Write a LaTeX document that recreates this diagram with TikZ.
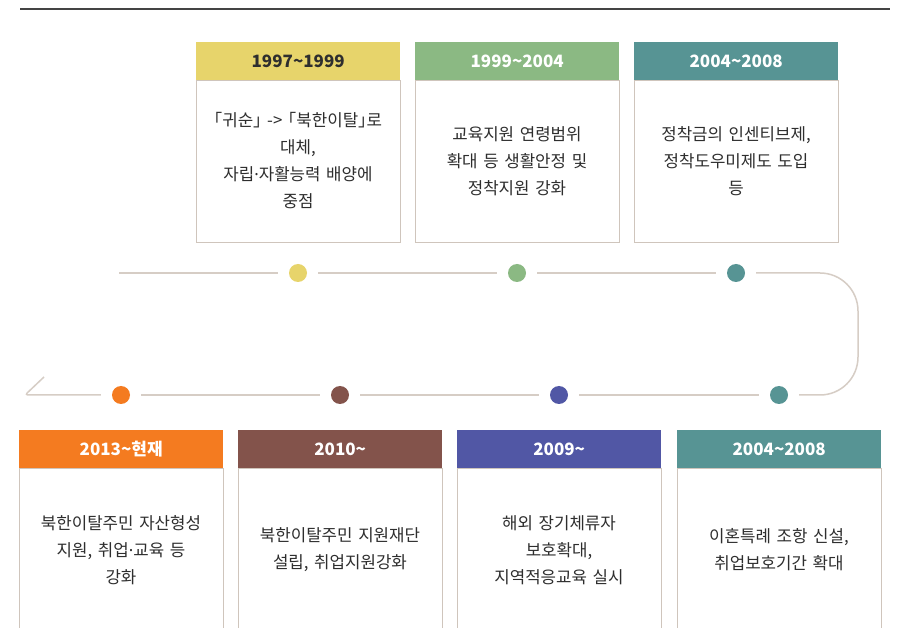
\documentclass[tikz,border=0pt]{standalone}
\usepackage{fontspec}
\setmainfont{Noto Sans CJK KR}
\newfontfamily\latinfont{Noto Sans}
\definecolor{cyellow}{HTML}{E7D46B}
\definecolor{cgreen}{HTML}{8BB983}
\definecolor{cteal}{HTML}{579494}
\definecolor{corange}{HTML}{F47B20}
\definecolor{cbrown}{HTML}{83534B}
\definecolor{cpurple}{HTML}{5157A5}
\definecolor{cline}{HTML}{D6CDC5}
\definecolor{cborder}{HTML}{CFC5BC}
\definecolor{ctext}{HTML}{2E2E2E}
\definecolor{ctop}{HTML}{444444}
\newcommand{\tld}{\textasciitilde{}}
\newcommand{\mdot}{{\latinfont ·}}
\tikzset{
  x=1pt, y=-1pt,
  hdr/.style={fill=#1, minimum width=204pt, minimum height=38pt, inner sep=0pt, text=white,
    font=\fontsize{17}{20}\selectfont\bfseries},
  bodybox/.style={draw=cborder, line width=0.9pt, minimum width=204pt, inner sep=0pt},
  bodytxt/.style={text=ctext, align=center, text width=200pt, inner sep=0pt,
    font=\fontsize{16.8}{27}\selectfont},
  dot/.style={circle, fill=#1, minimum size=18pt, inner sep=0pt},
  tl/.style={draw=cline, line width=1.5pt, shorten <=11pt, shorten >=11pt},
}
\begin{document}
\begin{tikzpicture}
\useasboundingbox[fill=white] (0,0) rectangle (898,628);
% top rule
\coordinate (rl) at (20,9);
\coordinate (rr) at (890,9);
\draw[ctop, line width=2.2pt] (rl) -- (rr);

% top boxes
\node[bodybox, minimum height=162pt, anchor=north west] (b1) at (196,80) {};
\node[bodybox, minimum height=162pt, anchor=north west] (b2) at (415,80) {};
\node[bodybox, minimum height=162pt, anchor=north west] (b3) at (634,80) {};
\node[hdr=cyellow, text=ctext, anchor=north west] (h1) at (196,42) {1997\tld 1999};
\node[hdr=cgreen, anchor=north west] (h2) at (415,42) {1999\tld 2004};
\node[hdr=cteal, anchor=north west] (h3) at (634,42) {2004\tld 2008};
\node[bodytxt] (x1) at (298,161) {｢귀순｣ -> ｢북한이탈｣로\\대체,\\자립\mdot 자활능력 배양에\\중점};
\node[bodytxt] (x2) at (517,161) {교육지원 연령범위\\확대 등 생활안정 및\\정착지원 강화};
\node[bodytxt] (x3) at (736,161) {정착금의 인센티브제,\\정착도우미제도 도입\\등};

% bottom boxes (run off the bottom edge)
\node[bodybox, minimum height=200pt, anchor=north west] (b4) at (19,468) {};
\node[bodybox, minimum height=200pt, anchor=north west] (b5) at (238,468) {};
\node[bodybox, minimum height=200pt, anchor=north west] (b6) at (457,468) {};
\node[bodybox, minimum height=200pt, anchor=north west] (b7) at (677,468) {};
\node[hdr=corange, anchor=north west] (h4) at (19,430) {2013\tld 현재};
\node[hdr=cbrown, anchor=north west] (h5) at (238,430) {2010\tld};
\node[hdr=cpurple, anchor=north west] (h6) at (457,430) {2009\tld};
\node[hdr=cteal, anchor=north west] (h7) at (677,430) {2004\tld 2008};
\node[bodytxt] (x4) at (121,550) {북한이탈주민 자산형성\\지원, 취업\mdot 교육 등\\강화};
\node[bodytxt] (x5) at (340,550) {북한이탈주민 지원재단\\설립, 취업지원강화};
\node[bodytxt] (x6) at (559,550) {해외 장기체류자\\보호확대,\\지역적응교육 실시};
\node[bodytxt] (x7) at (779,550) {이혼특례 조항 신설,\\취업보호기간 확대};

% timeline dots
\node[dot=cyellow] (t1) at (298,273) {};
\node[dot=cgreen] (t2) at (517,273) {};
\node[dot=cteal] (t3) at (736,273) {};
\node[dot=cteal] (u4) at (779,395) {};
\node[dot=cpurple] (u3) at (559,395) {};
\node[dot=cbrown] (u2) at (340,395) {};
\node[dot=corange] (u1) at (121,395) {};

\coordinate (start) at (119,273);
\coordinate (rc1) at (858,273);
\coordinate (rc2) at (858,395);
\coordinate (hk) at (25,395);
\coordinate (hkend) at (44,377);

\draw[tl, shorten <=0pt] (start) -- (t1);
\draw[tl] (t1) -- (t2);
\draw[tl] (t2) -- (t3);
\draw[tl, rounded corners=38pt] (t3) -- (rc1) -- (rc2) -- (u4);
\draw[tl] (u4) -- (u3);
\draw[tl] (u3) -- (u2);
\draw[tl] (u2) -- (u1);
\draw[tl, shorten >=0pt, rounded corners=3pt] (u1) -- (hk) -- (hkend);
\end{tikzpicture}
\end{document}
